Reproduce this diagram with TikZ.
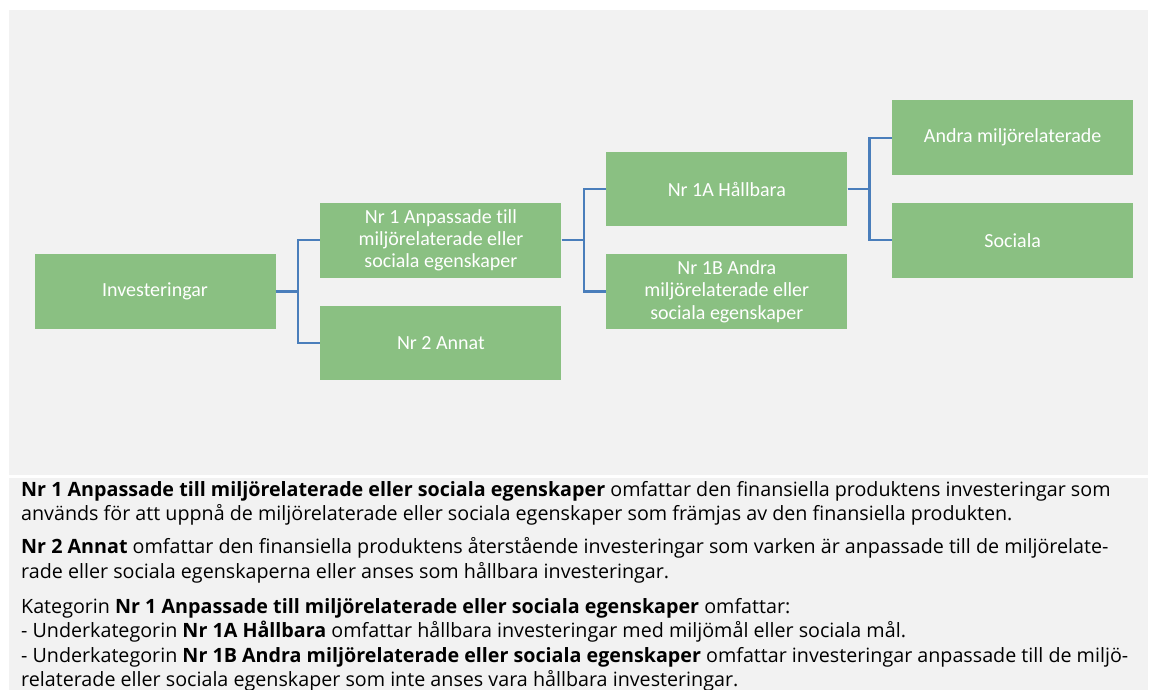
\documentclass[tikz,border=0pt]{standalone}
\usepackage{fontspec}
\setmainfont{Open Sans}
\newfontfamily\boxfont[Ligatures=NoCommon]{Carlito}
\usetikzlibrary{positioning}

\definecolor{panelgrey}{HTML}{F2F2F2}
\definecolor{boxgreen}{HTML}{8AC082}
\definecolor{lineblue}{HTML}{4A7EBB}

\tikzset{
  orgbox/.style={rectangle,fill=boxgreen,text=white,minimum width=241pt,minimum height=74.5pt,
    inner sep=2pt,align=center,font=\boxfont\fontsize{20}{22.3}\selectfont},
  conn/.style={draw=lineblue,line width=2.2pt},
  txtline/.style={anchor=base west,inner sep=0pt,font=\fontsize{19.7}{24}\selectfont}
}

\begin{document}
\begin{tikzpicture}[x=1pt,y=1pt]
  \useasboundingbox (0,0) rectangle (1149,-690);
  \clip (0,0) rectangle (1149,-690);
  \fill[panelgrey] (9,-10) rectangle (1148,-475);
  \fill[panelgrey] (9,-478) rectangle (1148,-690);

  % tree
  \node[orgbox] (inv) at (155,-291.5) {Investeringar};
  \node[orgbox,right=44.5pt of inv,yshift=51.25pt] (nr1) {Nr 1 Anpassade till\\ miljörelaterade eller\\ sociala egenskaper};
  \node[orgbox,right=44.5pt of inv,yshift=-51.25pt] (nr2) {Nr 2 Annat};
  \node[orgbox,right=44.5pt of nr1,yshift=51.25pt] (nr1a) {Nr 1A Hållbara};
  \node[orgbox,right=44.5pt of nr1,yshift=-51.25pt] (nr1b) {Nr 1B Andra\\ miljörelaterade eller\\ sociala egenskaper};
  \node[orgbox,right=44.5pt of nr1a,yshift=51.25pt] (andra) {Andra miljörelaterade};
  \node[orgbox,right=44.5pt of nr1a,yshift=-51.25pt] (soc) {Sociala};

  \draw[conn] (inv.east) -- ++(22,0) |- (nr1.west);
  \draw[conn] (inv.east) -- ++(22,0) |- (nr2.west);
  \draw[conn] (nr1.east) -- ++(22,0) |- (nr1a.west);
  \draw[conn] (nr1.east) -- ++(22,0) |- (nr1b.west);
  \draw[conn] (nr1a.east) -- ++(22,0) |- (andra.west);
  \draw[conn] (nr1a.east) -- ++(22,0) |- (soc.west);

  % text below
  \node[txtline] (t1) at (21,-496) {\textbf{Nr 1 Anpassade till miljörelaterade eller sociala egenskaper} omfattar den finansiella produktens investeringar som};
  \node[txtline] (t2) at (21,-520.5) {används för att uppnå de miljörelaterade eller sociala egenskaper som främjas av den finansiella produkten.};
  \node[txtline] (t3) at (21,-553.5) {\textbf{Nr 2 Annat} omfattar den finansiella produktens återstående investeringar som varken är anpassade till de miljörelate-};
  \node[txtline] (t4) at (21,-578) {rade eller sociala egenskaperna eller anses som hållbara investeringar.};
  \node[txtline] (t5) at (21,-613) {Kategorin \textbf{Nr 1 Anpassade till miljörelaterade eller sociala egenskaper} omfattar:};
  \node[txtline] (t6) at (21,-637.5) {- Underkategorin \textbf{Nr 1A Hållbara} omfattar hållbara investeringar med miljömål eller sociala mål.};
  \node[txtline] (t7) at (21,-662) {- Underkategorin \textbf{Nr 1B Andra miljörelaterade eller sociala egenskaper} omfattar investeringar anpassade till de miljö-};
  \node[txtline] (t8) at (21,-686.5) {relaterade eller sociala egenskaper som inte anses vara hållbara investeringar.};
\end{tikzpicture}
\end{document}
